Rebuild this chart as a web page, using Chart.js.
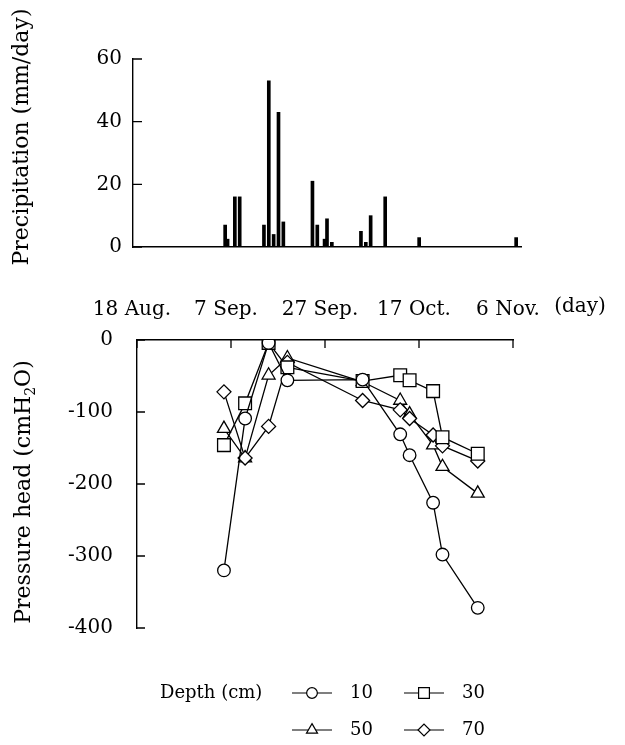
<!DOCTYPE html>
<html>
<head>
<meta charset="utf-8">
<script src="https://cdn.jsdelivr.net/npm/chart.js@4.4.0/dist/chart.umd.min.js"></script>
<style>
html,body{margin:0;padding:0;background:#fff;}
#wrap{position:relative;width:625px;height:745px;}
#rainChart{position:absolute;left:0;top:0;}
#headChart{position:absolute;left:0;top:270px;}
</style>
</head>
<body>
<div id="wrap">
<canvas id="rainChart" width="625" height="270"></canvas>
<canvas id="headChart" width="625" height="475"></canvas>
</div>
<script>
// days are counted from 18 Aug.
const rainDays = [19, 19.5, 21, 22, 27, 28, 29, 30, 31, 37, 38, 39.5, 40, 41, 47, 48, 49, 52, 59, 79];
const rainValues = [7, 2.5, 16, 16, 7, 53, 4, 43, 8, 21, 7, 2.5, 9, 1.5, 5, 1.5, 10, 16, 3, 3];

const dateTicks = [0, 20, 40, 60, 80];
const dateLabels = ['18 Aug.', '7 Sep.', '27 Sep.', '17 Oct.', '6 Nov.'];

const sampleDays = [18.5, 23, 28, 32, 48, 56, 58, 63, 65, 72.5];
const head10 = [-320, -109, -4, -56, -55, -131, -160, -226, -298, -372];
const head30 = [-146, -88, -4, -38, -57, -49, -56, -71, -135, -158];
const head50 = [-123, -164, -49, -25, -58, -84, -103, -146, -176, -213];
const head70 = [-72, -164, -120, -31, -84, -97, -109, -132, -147, -168];
const depthLabels = ['10', '30', '50', '70'];

const serif = 'DejaVu Serif';

const toPoints = (xs, ys) => xs.map((x, i) => ({x: x, y: ys[i]}));

// ticks pointing into the plot
const inwardTicks = {
  id: 'inwardTicks',
  afterDraw(chart, args, opts) {
    const ctx = chart.ctx;
    const area = chart.chartArea;
    ctx.save();
    ctx.strokeStyle = '#000';
    ctx.lineWidth = 1.3;
    ctx.beginPath();
    (opts.axes || []).forEach(id => {
      const s = chart.scales[id];
      s.ticks.forEach(t => {
        const p = s.getPixelForValue(t.value);
        if (s.isHorizontal()) {
          const top = s.position === 'top';
          const y = top ? area.top : area.bottom;
          ctx.moveTo(p, y);
          ctx.lineTo(p, y + (top ? 1 : -1) * opts.length);
        } else {
          ctx.moveTo(area.left, p);
          ctx.lineTo(area.left + opts.length, p);
        }
      });
    });
    ctx.stroke();
    ctx.restore();
  }
};

// rotated y title, with optional subscript pieces
const sideTitle = {
  id: 'sideTitle',
  afterDraw(chart, args, o) {
    const ctx = chart.ctx, a = chart.chartArea;
    const mainFont = o.size + 'px "' + serif + '"';
    const subFont = Math.round(o.size * 0.62) + 'px "' + serif + '"';
    ctx.save();
    ctx.fillStyle = '#000';
    let total = 0;
    const widths = o.parts.map(p => {
      ctx.font = p.sub ? subFont : mainFont;
      const w = ctx.measureText(p.t).width;
      total += w;
      return w;
    });
    ctx.translate(o.x, (a.top + a.bottom) / 2 + (o.shift || 0));
    ctx.rotate(-Math.PI / 2);
    ctx.textBaseline = 'alphabetic';
    let x = -total / 2;
    o.parts.forEach((p, i) => {
      ctx.font = p.sub ? subFont : mainFont;
      ctx.fillText(p.t, x, o.size * 0.36 + (p.sub ? o.size * 0.22 : 0));
      x += widths[i];
    });
    ctx.restore();
  }
};

const depthLegend = {
  id: 'depthLegend',
  afterDraw(chart, args, o) {
    const ctx = chart.ctx, a = chart.chartArea;
    ctx.save();
    ctx.font = o.size + 'px "' + serif + '"';
    ctx.textBaseline = 'middle';
    ctx.fillStyle = '#000';
    ctx.fillText(o.title, o.titleX, a.bottom + o.rowY[0]);
    chart.data.datasets.forEach((ds, i) => {
      const cx = o.colX[i % 2];
      const cy = a.bottom + o.rowY[Math.floor(i / 2)];
      ctx.strokeStyle = '#000';
      ctx.lineWidth = 1.2;
      ctx.beginPath();
      ctx.moveTo(cx - 20, cy);
      ctx.lineTo(cx + 20, cy);
      ctx.stroke();
      ctx.fillStyle = '#fff';
      Chart.helpers.drawPoint(ctx, {pointStyle: ds.pointStyle, radius: ds.pointRadius * 0.85, borderWidth: 1.2, rotation: 0}, cx, cy);
      ctx.fillStyle = '#000';
      ctx.fillText(ds.label, cx + 38, cy);
    });
    ctx.restore();
  }
};

// "(day)" unit after the date labels
const dayUnit = {
  id: 'dayUnit',
  afterDraw(chart, args, o) {
    const ctx = chart.ctx, a = chart.chartArea;
    ctx.save();
    ctx.font = o.size + 'px "' + serif + '"';
    ctx.fillStyle = '#000';
    ctx.textAlign = 'center';
    ctx.textBaseline = 'middle';
    ctx.fillText(o.text, o.x, a.top - o.dy);
    ctx.restore();
  }
};

const tickFont = {family: serif, size: 20};
const axisBorder = {display: true, color: '#000', width: 1.4};
const noGrid = {display: true, drawOnChartArea: false, drawTicks: false};

function CreateRainChart() {
  const Config = {
    type: 'bar',
    data: {
      datasets: [{
        data: toPoints(rainDays, rainValues),
        backgroundColor: '#000',
        barThickness: 3
      }]
    },
    plugins: [inwardTicks, sideTitle],
    options: {
      responsive: false,
      animation: false,
      devicePixelRatio: 1,
      layout: {padding: {left: 0, right: 104, top: 59, bottom: 0}},
      plugins: {
        legend: {display: false},
        tooltip: {enabled: false},
        inwardTicks: {axes: ['y'], length: 9},
        sideTitle: {x: 20, shift: -16, size: 22, parts: [{t: 'Precipitation (mm/day)'}]}
      },
      scales: {
        x: {
          type: 'linear', min: 0, max: 80, offset: false,
          ticks: {display: false},
          grid: noGrid, border: axisBorder,
          afterFit: s => { s.height = 23; }
        },
        y: {
          min: 0, max: 60,
          ticks: {stepSize: 20, padding: 11, color: '#000', font: tickFont},
          grid: noGrid, border: axisBorder,
          afterFit: s => { s.width = 133; }
        }
      }
    }
  };
  return new Chart(document.getElementById('rainChart'), Config);
}

function CreateHeadChart() {
  const line = (label, values, style, radius, order) => ({
    label: label,
    data: toPoints(sampleDays, values),
    borderColor: '#000',
    borderWidth: 1.3,
    pointStyle: style,
    pointRadius: radius,
    pointBackgroundColor: '#fff',
    pointBorderColor: '#000',
    pointBorderWidth: 1.3,
    order: order
  });
  const Config = {
    type: 'line',
    data: {
      datasets: [
        line(depthLabels[0], head10, 'circle', 6.3, 0),
        line(depthLabels[1], head30, 'rect', 9, 1),
        line(depthLabels[2], head50, 'triangle', 7.5, 3),
        line(depthLabels[3], head70, 'rectRot', 7, 2)
      ]
    },
    plugins: [inwardTicks, sideTitle, depthLegend, dayUnit],
    options: {
      responsive: false,
      animation: false,
      devicePixelRatio: 1,
      layout: {padding: {left: 0, right: 112, top: 0, bottom: 117}},
      plugins: {
        legend: {display: false},
        tooltip: {enabled: false},
        inwardTicks: {axes: ['x', 'y'], length: 8},
        sideTitle: {x: 22, shift: 8, size: 22, parts: [{t: 'Pressure head (cmH'}, {t: '2', sub: true}, {t: 'O)'}]},
        depthLegend: {title: 'Depth (cm)', titleX: 160, size: 18, colX: [312, 424], rowY: [65, 102]},
        dayUnit: {text: '(day)', x: 580, dy: 33, size: 20}
      },
      scales: {
        x: {
          type: 'linear', position: 'top', min: 0, max: 80,
          afterBuildTicks: s => { s.ticks = dateTicks.map(v => ({value: v})); },
          ticks: {
            autoSkip: false, maxRotation: 0, padding: 18, labelOffset: -5,
            color: '#000', font: tickFont,
            callback: v => dateLabels[dateTicks.indexOf(v)]
          },
          grid: noGrid, border: axisBorder,
          afterFit: s => { s.height = 70; }
        },
        y: {
          min: -400, max: 0,
          ticks: {stepSize: 100, padding: 24, color: '#000', font: tickFont},
          grid: noGrid, border: axisBorder,
          afterFit: s => { s.width = 137; }
        }
      }
    }
  };
  return new Chart(document.getElementById('headChart'), Config);
}

CreateRainChart();
CreateHeadChart();
</script>
</body>
</html>
